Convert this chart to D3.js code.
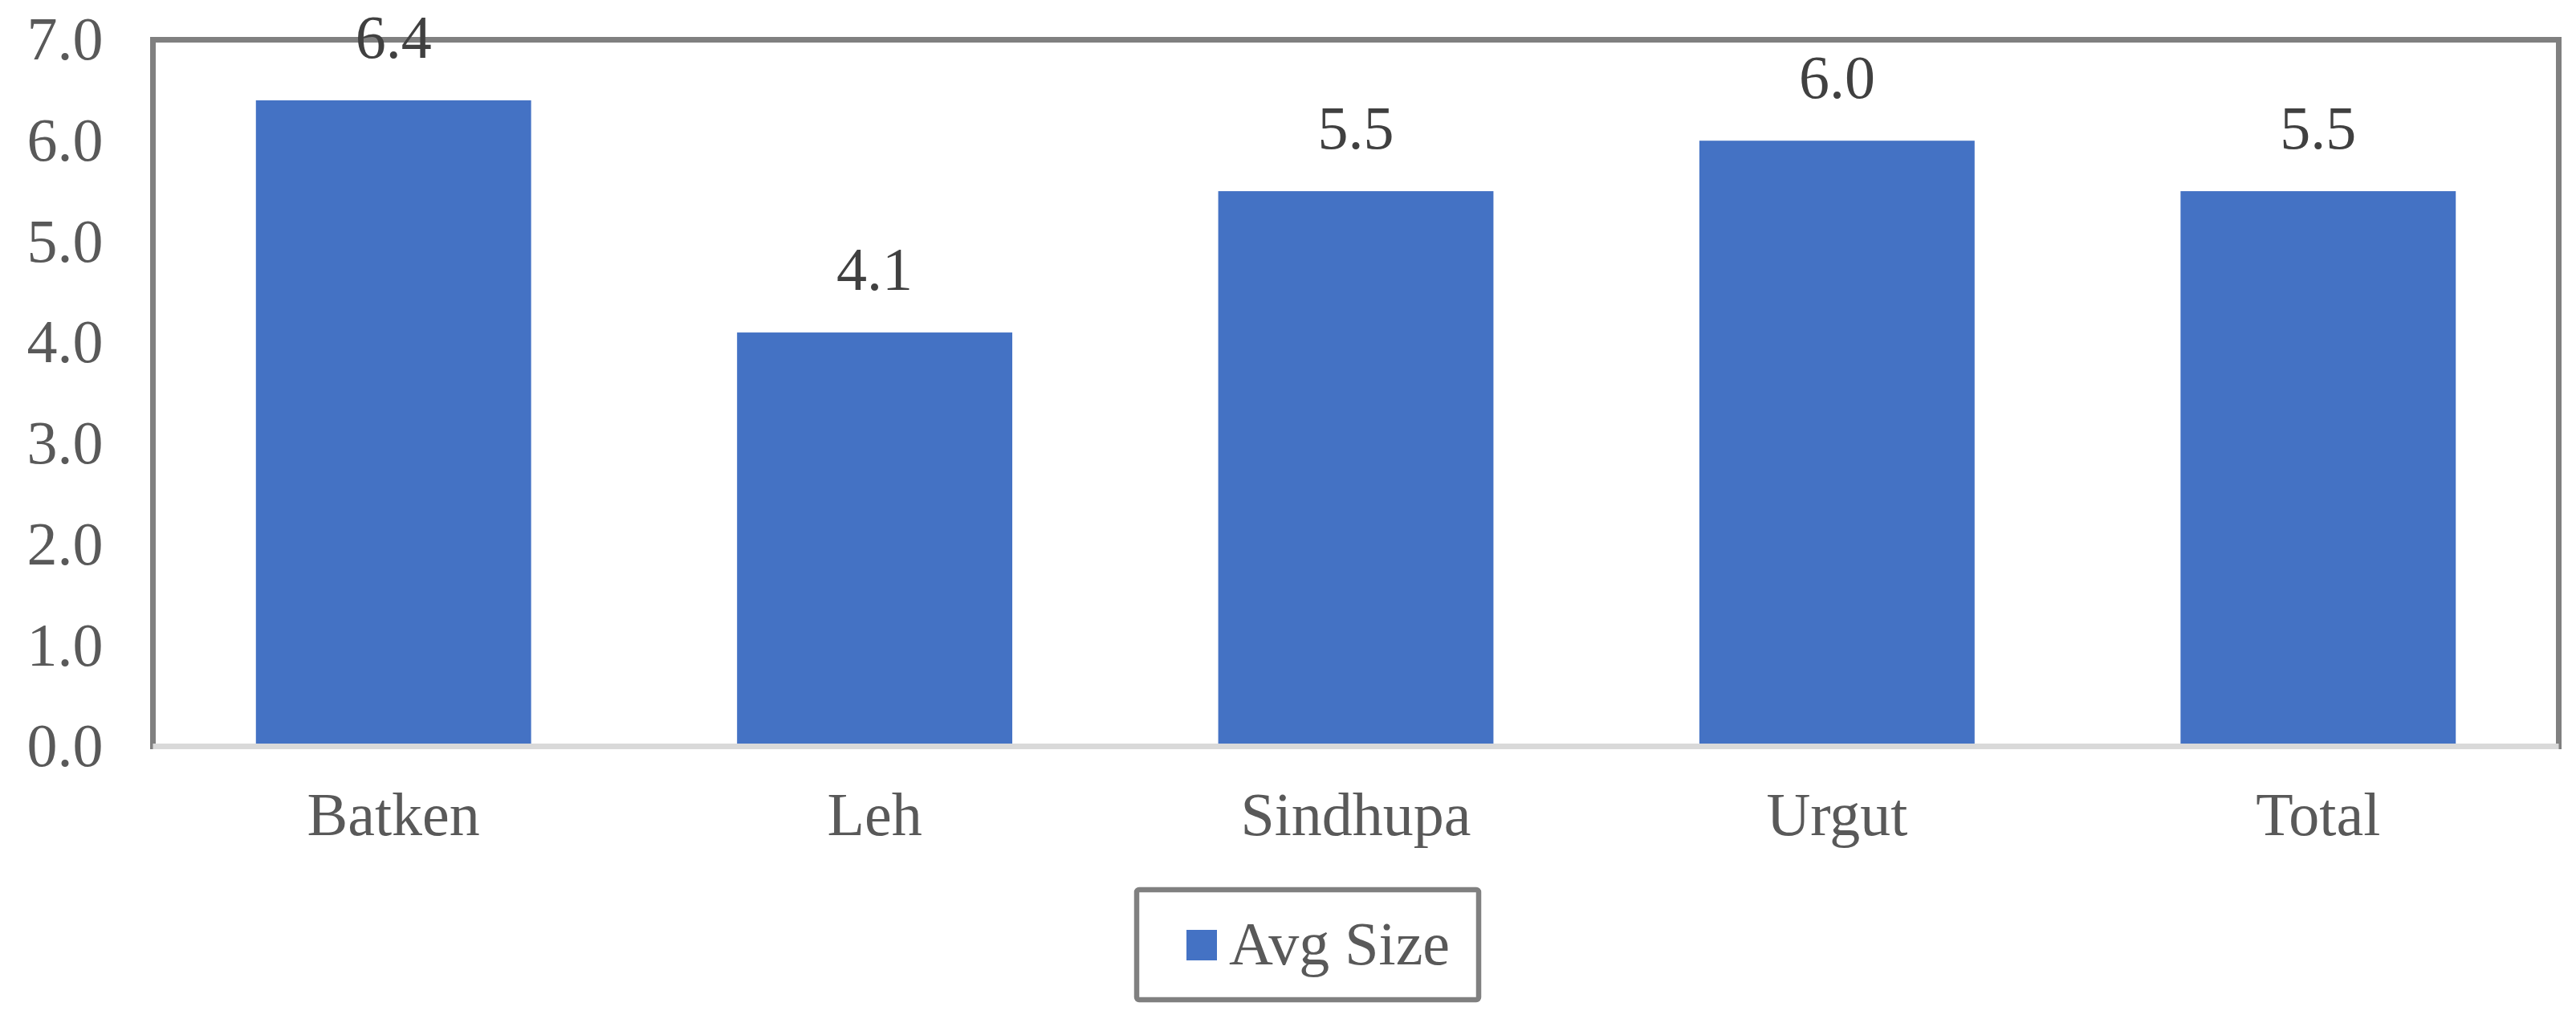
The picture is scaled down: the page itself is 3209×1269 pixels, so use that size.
<!DOCTYPE html>
<html>
<head>
<meta charset="utf-8">
<script src="https://cdn.jsdelivr.net/npm/d3@7/dist/d3.min.js"></script>
<style>
  html, body { margin: 0; padding: 0; background: #fff; }
  svg { display: block; }
  text { font-family: "Liberation Serif", "Times New Roman", serif; }
</style>
</head>
<body>
<svg id="chart" width="3209" height="1269"></svg>
<script>
const categories = ["Batken", "Leh", "Sindhupa", "Urgut", "Total"];
const avgSize = [6.4, 4.1, 5.5, 6.0, 5.5];
const yTicks = [0, 1, 2, 3, 4, 5, 6, 7];
const seriesName = "Avg Size";

const W = 3209, H = 1269;
const plot = { left: 190.5, top: 49.5, right: 3187.5, bottom: 929.5 };
const FS = 76;
const svg = d3.select("#chart");

const x = d3.scaleBand()
  .domain(categories)
  .range([plot.left, plot.right])
  .paddingInner(0.428)
  .paddingOuter(0.214);

const y = d3.scaleLinear()
  .domain([0, 7])
  .range([plot.bottom, plot.top]);

// plot area border
svg.append("rect")
  .attr("x", plot.left).attr("y", plot.top)
  .attr("width", plot.right - plot.left)
  .attr("height", plot.bottom - plot.top)
  .attr("fill", "none")
  .attr("stroke", "#808080")
  .attr("stroke-width", 7);

// bars
svg.append("g").selectAll("rect")
  .data(categories)
  .join("rect")
  .attr("x", d => x(d))
  .attr("width", x.bandwidth())
  .attr("y", (d, i) => y(avgSize[i]))
  .attr("height", (d, i) => y(0) - y(avgSize[i]) - 3)
  .attr("fill", "#4472C4");

// x axis line
svg.append("line")
  .attr("x1", plot.left).attr("x2", plot.right)
  .attr("y1", y(0)).attr("y2", y(0))
  .attr("stroke", "#D9D9D9")
  .attr("stroke-width", 7);

// y axis
const yAxis = d3.axisLeft(y)
  .tickValues(yTicks)
  .tickFormat(d3.format(".1f"))
  .tickSize(0)
  .tickPadding(62);
const gy = svg.append("g")
  .attr("transform", `translate(${plot.left},0)`)
  .call(yAxis);
gy.select(".domain").remove();
gy.selectAll("text")
  .attr("font-family", '"Liberation Serif", "Times New Roman", serif')
  .attr("font-size", FS)
  .attr("fill", "#595959");

// x axis labels
const xAxis = d3.axisBottom(x).tickSize(0).tickPadding(57);
const gx = svg.append("g")
  .attr("transform", `translate(0,${y(0)})`)
  .call(xAxis);
gx.select(".domain").remove();
gx.selectAll("text")
  .attr("font-family", '"Liberation Serif", "Times New Roman", serif')
  .attr("font-size", FS)
  .attr("fill", "#595959");

// data labels
svg.append("g").selectAll("text")
  .data(categories)
  .join("text")
  .attr("x", d => x(d) + x.bandwidth() / 2)
  .attr("y", (d, i) => y(avgSize[i]) - 53)
  .attr("text-anchor", "middle")
  .attr("font-size", FS)
  .attr("fill", "#404040")
  .text((d, i) => d3.format(".1f")(avgSize[i]));

// legend
const lg = svg.append("g");
lg.append("rect")
  .attr("x", 1416).attr("y", 1108)
  .attr("width", 426).attr("height", 137)
  .attr("rx", 3)
  .attr("fill", "#fff")
  .attr("stroke", "#808080")
  .attr("stroke-width", 6.5);
lg.append("rect")
  .attr("x", 1478).attr("y", 1158)
  .attr("width", 38).attr("height", 38)
  .attr("fill", "#4472C4");
lg.append("text")
  .attr("x", 1531).attr("y", 1201)
  .attr("font-size", FS)
  .attr("fill", "#595959")
  .text(seriesName);
</script>
</body>
</html>
